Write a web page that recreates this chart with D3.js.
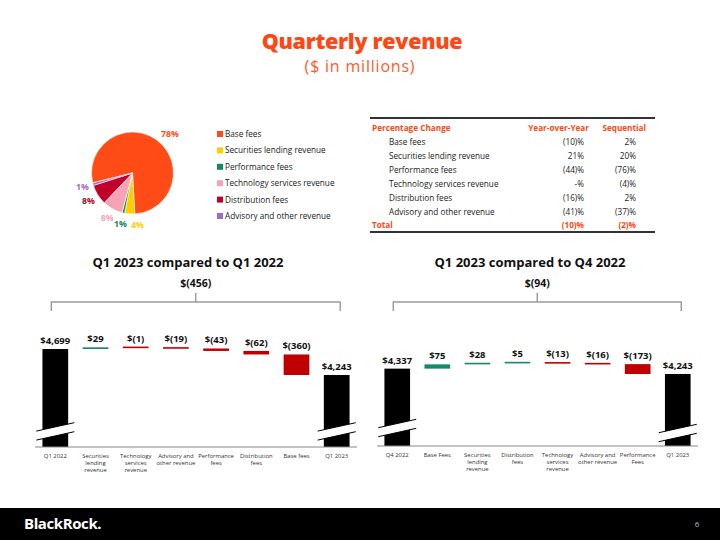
<!DOCTYPE html>
<html><head><meta charset="utf-8">
<script src="https://cdn.jsdelivr.net/npm/d3@7"></script>
<style>
html,body{margin:0;padding:0;background:#fff;}
svg{display:block;font-family:"Open Sans",sans-serif;}
</style></head>
<body><svg id="c" width="720" height="540"></svg>
<script>
// ---------- data ----------
const pieCategories = ["Base fees","Securities lending revenue","Performance fees","Technology services revenue","Distribution fees","Advisory and other revenue"];
const pieShares = [78, 4, 1, 8, 8, 1];
const pieColors = ["#FF4C17","#FFCD00","#0E8A5E","#F7A3B6","#C0002B","#A06CC8"];

const tableRows = ["Base fees","Securities lending revenue","Performance fees","Technology services revenue","Distribution fees","Advisory and other revenue"];
const tableYoY = ["(10)%","21%","(44)%","-%","(16)%","(41)%"];
const tableSeq = ["2%","20%","(76)%","(4)%","2%","(37)%"];
const tableTotal = ["(10)%","(2)%"];

const leftTitle = "Q1 2023 compared to Q1 2022";
const leftChange = "$(456)";
const leftCategories = ["Q1 2022","Securities\nlending\nrevenue","Technology\nservices\nrevenue","Advisory and\nother revenue","Performance\nfees","Distribution\nfees","Base fees","Q1 2023"];
const leftStart = 4699;
const leftDeltas = [29, -1, -19, -43, -62, -360];
const leftEnd = 4243;

const rightTitle = "Q1 2023 compared to Q4 2022";
const rightChange = "$(94)";
const rightCategories = ["Q4 2022","Base Fees","Securities\nlending\nrevenue","Distribution\nfees","Technology\nservices\nrevenue","Advisory and\nother revenue","Performance\nFees","Q1 2023"];
const rightStart = 4337;
const rightDeltas = [75, 28, 5, -13, -16, -173];
const rightEnd = 4243;

// ---------- drawing ----------
const svg = d3.select("#c");
const ORANGE = "#FF4713";

svg.append("text").attr("x",362).attr("y",49).attr("text-anchor","middle")
  .attr("font-size",21.5).attr("font-weight",800).attr("fill",ORANGE).attr("letter-spacing",-0.3)
  .text("Quarterly revenue");
svg.append("text").attr("x",360).attr("y",72).attr("text-anchor","middle")
  .attr("font-size",16).attr("letter-spacing",0.8).attr("fill","#FF5A2A").text("($ in millions)");

// pie
const pcx = 132.5, pcy = 173, pr = 41;
const pie = d3.pie().sort(null).value(d=>d).startAngle(256*Math.PI/180).endAngle((256+360)*Math.PI/180);
const arcs = pie(pieShares);
const arc = d3.arc().innerRadius(0).outerRadius(pr);
const gp = svg.append("g").attr("transform",`translate(${pcx},${pcy})`);
gp.selectAll("path").data(arcs).join("path").attr("d",arc)
  .attr("fill",(d,i)=>pieColors[i]).attr("stroke","#fff").attr("stroke-width",0.6);
const pos = arcs.map((d,i)=>{
  const r = i===0 ? 54 : 52;
  const a = (d.startAngle+d.endAngle)/2 + (i===0 ? 0.13 : 0);
  return [Math.sin(a)*r, -Math.cos(a)*r];
});
// resolve overlaps between labels sitting on the same line: spread them apart
for(let i=0;i<pos.length;i++) for(let j=i+1;j<pos.length;j++){
  const p=pos[i], q=pos[j];
  if(Math.abs(p[1]-q[1])<3 && Math.abs(p[0]-q[0])<16){
    const m=(p[0]+q[0])/2 + 4;
    if(p[0]>q[0]){ p[0]=m+8.5; q[0]=m-8.5; } else { q[0]=m+8.5; p[0]=m-8.5; }
  }
}
arcs.forEach((d,i)=>{
  gp.append("text").attr("x",pos[i][0]).attr("y",pos[i][1]+3).attr("text-anchor","middle")
    .attr("font-size",8.7).attr("font-weight",700).attr("fill",pieColors[i]).text(pieShares[i]+"%");
});

// legend
const lg = svg.append("g");
pieCategories.forEach((c,i)=>{
  const y = 134 + i*16.4;
  lg.append("rect").attr("x",217).attr("y",y-3).attr("width",6).attr("height",6).attr("fill",pieColors[i]);
  lg.append("text").attr("x",225).attr("y",y+3).attr("font-size",8.2).attr("fill","#222").text(c);
});

// table
const tg = svg.append("g");
tg.append("line").attr("x1",370).attr("x2",655).attr("y1",118).attr("y2",118).attr("stroke","#333").attr("stroke-width",2);
tg.append("line").attr("x1",370).attr("x2",655).attr("y1",232).attr("y2",232).attr("stroke","#333").attr("stroke-width",2);
tg.append("text").attr("x",372).attr("y",131).attr("font-size",8.2).attr("font-weight",700).attr("fill",ORANGE).text("Percentage Change");
tg.append("text").attr("x",589).attr("y",131).attr("text-anchor","end").attr("font-size",8.2).attr("font-weight",700).attr("fill",ORANGE).text("Year-over-Year");
tg.append("text").attr("x",646).attr("y",131).attr("text-anchor","end").attr("font-size",8.2).attr("font-weight",700).attr("fill",ORANGE).text("Sequential");
tableRows.forEach((r,i)=>{
  const y = 145 + i*14;
  tg.append("text").attr("x",389).attr("y",y).attr("font-size",8.2).attr("fill","#222").text(r);
  tg.append("text").attr("x",584).attr("y",y).attr("text-anchor","end").attr("font-size",8.2).attr("fill","#222").text(tableYoY[i]);
  tg.append("text").attr("x",636).attr("y",y).attr("text-anchor","end").attr("font-size",8.2).attr("fill","#222").text(tableSeq[i]);
});
tg.append("text").attr("x",372).attr("y",228).attr("font-size",8.2).attr("font-weight",700).attr("fill",ORANGE).text("Total");
tg.append("text").attr("x",584).attr("y",228).attr("text-anchor","end").attr("font-size",8.2).attr("font-weight",700).attr("fill",ORANGE).text(tableTotal[0]);
tg.append("text").attr("x",636).attr("y",228).attr("text-anchor","end").attr("font-size",8.2).attr("font-weight",700).attr("fill",ORANGE).text(tableTotal[1]);

// waterfall
const fmt = v => v<0 ? "$(" + d3.format(",")(-v) + ")" : "$" + d3.format(",")(v);
const y = d3.scaleLinear().domain([2980, 4699]).range([447, 349]);
const GREEN = "#138A66", RED = "#C00000";

function waterfall(opt){
  const {x0, x1, axisY, title, change, cats, start, deltas, end, titleX, brk} = opt;
  const g = svg.append("g");
  const x = d3.scaleBand().domain(d3.range(cats.length)).range([x0,x1]).paddingInner(0.36).paddingOuter(0.185);
  const cxOf = i => x(i)+x.bandwidth()/2;
  const yy = y.copy().range([axisY, axisY-(447-349)]);
  // title & bracket
  g.append("text").attr("x",titleX).attr("y",267).attr("text-anchor","middle").attr("font-size",13).attr("font-weight",700).attr("fill","#111").text(title);
  const bl = cxOf(0)-4, br = cxOf(cats.length-1)+3.5, bc = (bl+br)/2;
  g.append("path").attr("d",`M${bl},311V302H${br}V311M${bc},302V293`).attr("fill","none").attr("stroke","#9a9a9a").attr("stroke-width",1.4);
  g.append("text").attr("x",bc).attr("y",287).attr("text-anchor","middle").attr("font-size",10.5).attr("font-weight",700).attr("fill","#111").text(change);
  // bars
  const bars = [];
  bars.push({i:0, lo:y.domain()[0], hi:start, label:fmt(start), color:"#000"});
  let run = start;
  deltas.forEach((d,k)=>{
    const a = run, b = run + d;
    bars.push({i:k+1, lo:Math.min(a,b), hi:Math.max(a,b), label:fmt(d), color: d>=0?GREEN:RED});
    run = b;
  });
  bars.push({i:cats.length-1, lo:y.domain()[0], hi:end, label:fmt(end), color:"#000"});
  bars.forEach(b=>{
    let top = yy(b.hi), bot = yy(b.lo);
    if(bot-top<1.6){ const m=(top+bot)/2; top=m-0.8; bot=m+0.8; }
    g.append("rect").attr("x",x(b.i)).attr("y",top).attr("width",x.bandwidth()).attr("height",bot-top).attr("fill",b.color);
    g.append("text").attr("x",cxOf(b.i)).attr("y",top-5).attr("text-anchor","middle")
      .attr("font-size",9.5).attr("font-weight",700).attr("fill","#111").text(b.label);
  });
  // break marks on total bars
  [0, cats.length-1].forEach((i,k)=>{
    const cx = cxOf(i), yc = axisY - brk[k];
    const hw = 19, s = 4.2, h = 4.5;
    g.append("path").attr("d",`M${cx-hw},${yc-h+s}L${cx+hw},${yc-h-s}L${cx+hw},${yc+h-s}L${cx-hw},${yc+h+s}Z`).attr("fill","#fff");
    g.append("path").attr("d",`M${cx-hw},${yc-h+s}L${cx+hw},${yc-h-s}M${cx-hw},${yc+h+s}L${cx+hw},${yc+h-s}`).attr("stroke","#000").attr("stroke-width",1);
  });
  // axis
  g.append("line").attr("x1",x0).attr("x2",x1).attr("y1",axisY).attr("y2",axisY).attr("stroke","#888").attr("stroke-width",1);
  cats.forEach((c,i)=>{
    const t = g.append("text").attr("x",cxOf(i)).attr("y",axisY+10.5).attr("text-anchor","middle").attr("font-size",5.9).attr("fill","#333");
    c.split("\n").forEach((ln,j)=>{ t.append("tspan").attr("x",cxOf(i)).attr("dy", j===0?0:7.2).text(ln); });
  });
}
waterfall({x0:35, x1:357, axisY:447, title:leftTitle, change:leftChange, cats:leftCategories, start:leftStart, deltas:leftDeltas, end:leftEnd, titleX:188, brk:[15.6,15.6]});
waterfall({x0:377, x1:698, axisY:446, title:rightTitle, change:rightChange, cats:rightCategories, start:rightStart, deltas:rightDeltas, end:rightEnd, titleX:530, brk:[18,13]});

// footer
svg.append("rect").attr("x",0).attr("y",508).attr("width",720).attr("height",32).attr("fill","#000");
svg.append("text").attr("x",24).attr("y",529).attr("font-size",15).attr("font-weight",700).attr("fill","#fff").attr("letter-spacing",-0.4).text("BlackRock.");
svg.append("text").attr("x",697).attr("y",527).attr("text-anchor","middle").attr("font-size",8).attr("fill","#bbb").text("6");
</script></body></html>
